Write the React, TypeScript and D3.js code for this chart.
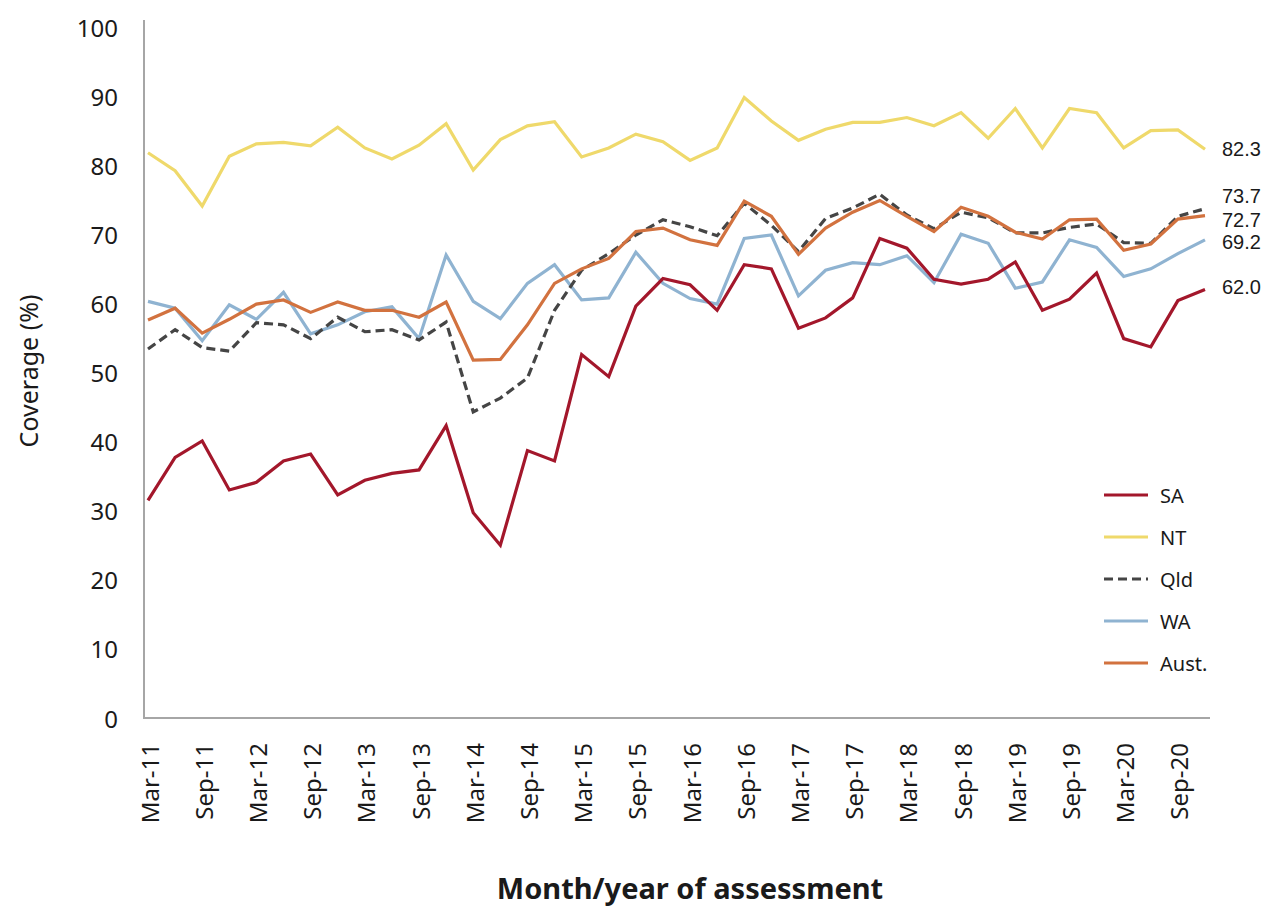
import React from 'react';
import * as d3 from 'd3';

const quarters = [
  'Mar-11','Jun-11','Sep-11','Dec-11','Mar-12','Jun-12','Sep-12','Dec-12',
  'Mar-13','Jun-13','Sep-13','Dec-13','Mar-14','Jun-14','Sep-14','Dec-14',
  'Mar-15','Jun-15','Sep-15','Dec-15','Mar-16','Jun-16','Sep-16','Dec-16',
  'Mar-17','Jun-17','Sep-17','Dec-17','Mar-18','Jun-18','Sep-18','Dec-18',
  'Mar-19','Jun-19','Sep-19','Dec-19','Mar-20','Jun-20','Sep-20','Dec-20'
];

const tickLabels = quarters.filter((q) => q.startsWith('Mar') || q.startsWith('Sep'));
const yTicks = [0, 10, 20, 30, 40, 50, 60, 70, 80, 90, 100];

const SA = [31.5,37.7,40.1,33.0,34.1,37.2,38.2,32.3,34.4,35.4,35.9,42.3,29.7,25.0,38.7,37.2,52.6,49.4,59.6,63.6,62.7,59.0,65.6,65.0,56.4,57.9,60.8,69.4,68.0,63.5,62.8,63.5,66.0,59.0,60.6,64.4,54.9,53.7,60.4,62.0];
const NT = [81.8,79.2,74.1,81.3,83.1,83.3,82.8,85.5,82.5,80.9,82.9,86.0,79.3,83.7,85.7,86.3,81.2,82.5,84.5,83.4,80.7,82.5,89.8,86.4,83.6,85.2,86.2,86.2,86.9,85.7,87.6,83.9,88.2,82.5,88.2,87.6,82.5,85.0,85.1,82.3];
const Qld = [53.4,56.2,53.6,53.1,57.2,56.9,54.9,58.0,55.9,56.2,54.7,57.3,44.3,46.3,49.2,59.0,64.8,67.2,69.9,72.1,71.1,69.8,74.5,71.3,67.5,72.3,73.8,75.8,72.8,70.8,73.2,72.4,70.2,70.2,71.0,71.5,68.8,68.7,72.6,73.7];
const WA = [60.3,59.3,54.6,59.8,57.7,61.6,55.6,56.9,58.8,59.5,54.9,67.0,60.3,57.8,62.9,65.6,60.5,60.8,67.4,62.9,60.7,59.9,69.4,69.9,61.1,64.8,65.9,65.6,66.9,63.0,70.0,68.7,62.2,63.1,69.2,68.1,63.9,65.0,67.2,69.2];
const Aust = [57.6,59.3,55.7,57.7,59.9,60.5,58.7,60.2,59.0,59.0,58.0,60.2,51.8,51.9,56.9,62.9,65.0,66.5,70.4,70.9,69.2,68.4,74.8,72.6,67.1,70.9,73.2,74.9,72.6,70.4,73.9,72.6,70.3,69.3,72.1,72.2,67.7,68.6,72.2,72.7];

const seriesNames = ['SA', 'NT', 'Qld', 'WA', 'Aust.'];
const seriesValues = [SA, NT, Qld, WA, Aust];

// styles (kept apart from data)
const styles: Record<string, { color: string; dash?: string; labelNudge: number }> = {
  SA: { color: '#a3172b', labelNudge: -3 },
  NT: { color: '#efd96b', labelNudge: 0 },
  Qld: { color: '#454545', dash: '9,5', labelNudge: -13 },
  WA: { color: '#8fb3d1', labelNudge: 2.5 },
  'Aust.': { color: '#d2723f', labelNudge: 4 },
};

const drawOrder = ['NT', 'WA', 'Qld', 'Aust.', 'SA'];
const FONT = "'Noto Sans', 'Open Sans', sans-serif";
const LABEL_FONT = "'Liberation Sans', Arial, sans-serif";

export default function App() {
  const W = 1267;
  const H = 909;
  const x = d3.scalePoint<string>().domain(quarters).range([148, 1205]);
  const y = d3.scaleLinear().domain([0, 100]).range([718, 27]);

  const line = d3
    .line<number>()
    .x((_, i) => x(quarters[i]) as number)
    .y((d) => y(d));

  const byName = (n: string) => seriesValues[seriesNames.indexOf(n)];

  return (
    <svg
      width={W}
      height={H}
      style={{ position: 'absolute', left: 0, top: 0, background: '#fff' }}
      fontFamily={FONT}
    >
      {/* axes */}
      <line x1={144} x2={144} y1={20} y2={719} stroke="#a6a6a6" strokeWidth={2} />
      <line x1={143} x2={1210} y1={718} y2={718} stroke="#a6a6a6" strokeWidth={2} />

      {yTicks.map((t) => (
        <text key={t} x={118} y={y(t)} textAnchor="end" dominantBaseline="central" fontSize={24} fill="#1a1a1a">
          {t}
        </text>
      ))}

      {tickLabels.map((q) => (
        <text
          key={q}
          transform={`translate(${(x(q) as number) + 1},743) rotate(-90)`}
          textAnchor="end"
          dominantBaseline="central"
          fontSize={24}
          fill="#1a1a1a"
        >
          {q}
        </text>
      ))}

      <text
        transform="translate(28,371) rotate(-90)"
        textAnchor="middle"
        dominantBaseline="central"
        fontSize={25}
        fill="#1a1a1a"
      >
        Coverage (%)
      </text>

      <text x={690} y={899} textAnchor="middle" fontSize={29} fontWeight="bold" fill="#1a1a1a">
        Month/year of assessment
      </text>

      {drawOrder.map((n) => (
        <path
          key={n}
          d={line(byName(n)) as string}
          fill="none"
          stroke={styles[n].color}
          strokeWidth={3.2}
          strokeDasharray={styles[n].dash}
          strokeLinejoin="miter"
        />
      ))}

      {seriesNames.map((n) => {
        const vals = byName(n);
        const last = vals[vals.length - 1];
        return (
          <text
            key={n}
            x={1222}
            y={y(last) + styles[n].labelNudge}
            dominantBaseline="central"
            fontSize={20}
            fontFamily={LABEL_FONT}
            fill="#1a1a1a"
          >
            {last.toFixed(1)}
          </text>
        );
      })}

      {seriesNames.map((n, i) => {
        const ly = 495 + i * 42;
        return (
          <g key={n}>
            <line
              x1={1104}
              x2={1148}
              y1={ly}
              y2={ly}
              stroke={styles[n].color}
              strokeWidth={3.2}
              strokeDasharray={styles[n].dash}
            />
            <text x={1160} y={ly} dominantBaseline="central" fontSize={20} fill="#1a1a1a">
              {n}
            </text>
          </g>
        );
      })}
    </svg>
  );
}
